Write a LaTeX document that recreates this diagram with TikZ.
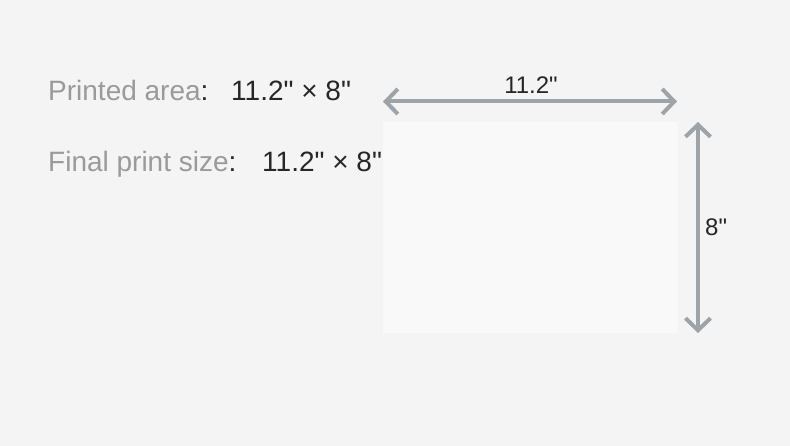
\documentclass[tikz,border=0pt]{standalone}
\usepackage{fontspec}
\setmainfont{Liberation Sans}[Ligatures=TeXOff]
\usetikzlibrary{arrows.meta}
\definecolor{bgc}{HTML}{F4F4F4}
\definecolor{paperc}{HTML}{F9F9F9}
\definecolor{dimc}{HTML}{9EA3A8}
\definecolor{labc}{HTML}{9A9A9A}
\definecolor{valc}{HTML}{262626}
\tikzset{
  lab/.style={anchor=base west, inner sep=0pt, text=labc, font=\fontsize{28}{32}\selectfont},
  val/.style={anchor=base west, inner sep=0pt, text=valc, font=\fontsize{28}{32}\selectfont},
  dimlab/.style={inner sep=0pt, text=valc, font=\fontsize{24}{28}\selectfont},
  dimarrow/.style={draw=dimc, line width=4pt, {Straight Barb[length=12pt,width=25pt,line width=4pt]}-{Straight Barb[length=12pt,width=25pt,line width=4pt]}}
}
\begin{document}
\begin{tikzpicture}[x=1pt,y=-1pt]
\fill[bgc] (0,0) rectangle (790,446);
\useasboundingbox (0,0) rectangle (790,446);
\node[fill=paperc, inner sep=0pt, minimum width=295pt, minimum height=211pt, anchor=north west] (paper) at (383,122) {};
\node[lab] (l1) at (48,101) {Printed area\textcolor{valc}{:}};
\node[val] (v1) at (231,101) {11.2" × 8"};
\node[lab] (l2) at (48,172) {Final print size\textcolor{valc}{:}};
\node[val] (v2) at (262,172) {11.2" × 8"};
\coordinate (hl) at (383,101.5);
\coordinate (hr) at (677,101.5);
\coordinate (vt) at (698,122);
\coordinate (vb) at (698,333);
\draw[dimarrow] (hl) -- (hr);
\draw[dimarrow] (vt) -- (vb);
\node[dimlab] (w) at (531,85) {11.2"};
\node[dimlab, anchor=west] (h) at (705,227) {8"};
\end{tikzpicture}
\end{document}
